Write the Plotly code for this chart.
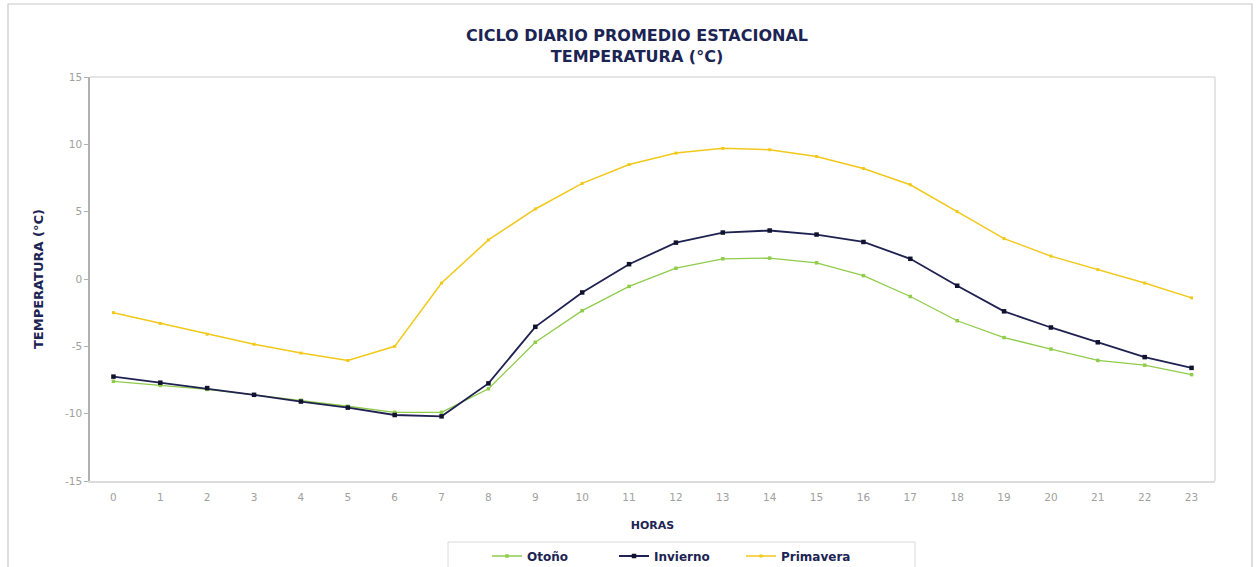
import plotly.graph_objects as go

horas = [str(h) for h in range(24)]

otono = [-7.6, -7.9, -8.2, -8.6, -9.0, -9.45, -9.9, -9.9, -8.15, -4.7, -2.35, -0.55,
         0.8, 1.5, 1.55, 1.2, 0.25, -1.3, -3.1, -4.35, -5.2, -6.05, -6.4, -7.1]
invierno = [-7.25, -7.7, -8.1, -8.6, -9.1, -9.55, -10.1, -10.2, -7.75, -3.55, -1.0, 1.1,
            2.7, 3.45, 3.6, 3.3, 2.75, 1.5, -0.5, -2.4, -3.6, -4.7, -5.8, -6.6]
primavera = [-2.5, -3.3, -4.1, -4.85, -5.5, -6.05, -5.0, -0.3, 2.9, 5.2, 7.1, 8.5,
             9.35, 9.7, 9.6, 9.1, 8.2, 7.0, 5.0, 3.0, 1.7, 0.7, -0.3, -1.4]

y_ticks = [-15, -10, -5, 0, 5, 10, 15]
y_labels = [str(v) for v in y_ticks]

NAVY = "#1c2453"
FONT = "DejaVu Sans"
TICK_GREY = "#a0a0a0"

fig = go.Figure()
fig.add_trace(go.Scatter(x=horas, y=otono, name="Otoño", mode="lines+markers",
                         line=dict(color="#8fcc4a", width=1.3),
                         marker=dict(color="#8fcc4a", size=3.5, symbol="square")))
fig.add_trace(go.Scatter(x=horas, y=invierno, name="Invierno", mode="lines+markers",
                         line=dict(color="#1f2150", width=1.8),
                         marker=dict(color="#10122e", size=4.5, symbol="square")))
fig.add_trace(go.Scatter(x=horas, y=primavera, name="Primavera", mode="lines+markers",
                         line=dict(color="#f2c81a", width=1.5),
                         marker=dict(color="#f2c81a", size=3, symbol="square")))

# plot-area geometry in pixels, used to place frame pieces in paper coordinates
L, R, T, B = 90, 1215, 77, 481
W, H = R - L, B - T


def px(x):
    return (x - L) / W


def py(y):
    return (B - y) / H


# outer frame of the chart
fig.add_shape(type="rect", xref="paper", yref="paper",
              x0=px(8), x1=px(1252), y0=py(570), y1=py(4),
              line=dict(color="#c8c8c8", width=1.2), layer="below")
# legend box
fig.add_shape(type="rect", xref="paper", yref="paper",
              x0=px(448), x1=px(915), y0=py(568), y1=py(542),
              line=dict(color="#dadada", width=1), fillcolor="white", layer="below")
# right and top borders of the plot area
fig.add_shape(type="line", xref="paper", yref="paper", x0=1, x1=1, y0=0, y1=1,
              line=dict(color="#dcdcdc", width=1.5))
fig.add_shape(type="line", xref="paper", yref="paper", x0=0, x1=1, y0=1, y1=1,
              line=dict(color="#dcdcdc", width=1.5))

fig.update_layout(
    width=1257, height=567,
    margin=dict(l=L, r=1257 - R, t=T, b=567 - B, autoexpand=False),
    paper_bgcolor="white", plot_bgcolor="white",
    title=dict(text="CICLO DIARIO PROMEDIO ESTACIONAL<br>TEMPERATURA (°C)",
               x=px(637), xref="paper", xanchor="center",
               y=1 - 41 / 567, yanchor="middle",
               font=dict(family=FONT, size=16, color=NAVY, weight="bold")),
    xaxis=dict(type="category", range=[-0.5, 23.5], showgrid=False,
               showline=True, linecolor="#dcdcdc", linewidth=1.5,
               ticks="outside", ticklen=6, tickcolor="rgba(0,0,0,0)",
               tickfont=dict(family=FONT, size=10.5, color=TICK_GREY),
               title=dict(text="HORAS", standoff=19,
                          font=dict(family=FONT, size=11, color=NAVY, weight="bold"))),
    yaxis=dict(range=[-15, 15], tickvals=y_ticks, ticktext=y_labels,
               showgrid=False, zeroline=False,
               showline=True, linecolor="#b0b0b0", linewidth=1.5,
               ticks="outside", ticklen=4, tickcolor="#b0b0b0",
               tickfont=dict(family=FONT, size=10.5, color=TICK_GREY),
               title=dict(text="TEMPERATURA (°C)", standoff=18,
                          font=dict(family=FONT, size=13, color=NAVY, weight="bold"))),
    legend=dict(orientation="h", x=px(487), xanchor="left", y=py(556), yanchor="middle",
                borderwidth=0, bgcolor="rgba(0,0,0,0)",
                entrywidth=82, entrywidthmode="pixels", itemwidth=30,
                font=dict(family=FONT, size=12, color=NAVY, weight="bold")),
    showlegend=True,
)

fig.write_html("out.html")
